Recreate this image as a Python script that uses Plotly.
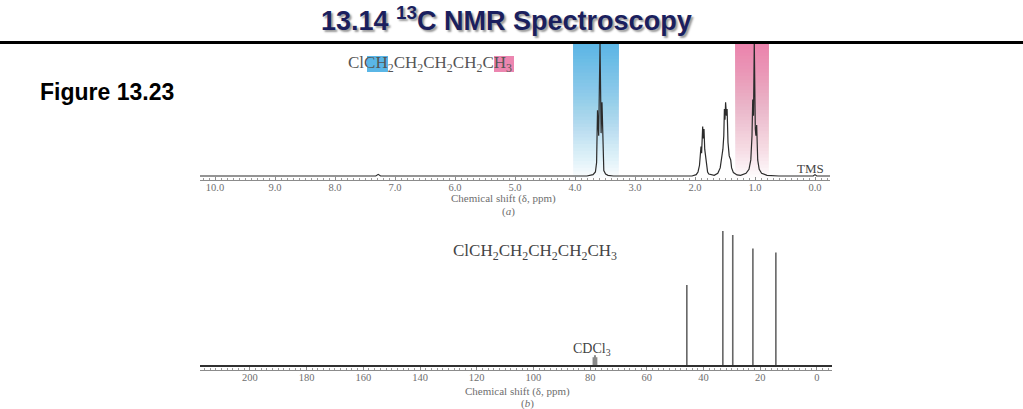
import plotly.graph_objects as go

# (a) 1H spectrum: chemical shift (ppm) and relative intensity
h_ppm = [10.25, 7.32, 7.28, 7.24, 3.80, 3.70, 3.66, 3.64, 3.625, 3.605, 3.583, 3.565, 3.55,
         3.535, 3.52, 3.49, 3.45, 3.36,
         2.05, 1.98, 1.95, 1.925, 1.91, 1.90, 1.89, 1.872, 1.862, 1.85, 1.838, 1.822, 1.81,
         1.79, 1.77, 1.68,
         1.62, 1.58, 1.545, 1.535, 1.52, 1.51, 1.50, 1.49, 1.475, 1.465, 1.45, 1.43, 1.405,
         1.39, 1.36, 1.30, 1.24,
         1.15, 1.10, 1.07, 1.05, 1.038, 1.025, 1.012, 0.995, 0.985, 0.972, 0.955, 0.93, 0.89,
         0.80, 0.60, 0.03, 0.0, -0.03, -0.25]
h_int = [0.0, 0.0, 0.012, 0.0, 0.0, 0.01, 0.03, 0.10, 0.49, 0.30, 1.00, 0.32, 0.55,
         0.12, 0.04, 0.015, 0.005, 0.0,
         0.0, 0.01, 0.03, 0.08, 0.15, 0.22, 0.17, 0.37, 0.28, 0.35, 0.20, 0.14, 0.08,
         0.03, 0.015, 0.005,
         0.02, 0.06, 0.17, 0.20, 0.30, 0.50, 0.42, 0.55, 0.45, 0.50, 0.25, 0.15, 0.12,
         0.06, 0.025, 0.008, 0.005,
         0.02, 0.05, 0.12, 0.30, 0.57, 0.45, 1.00, 0.35, 0.30, 0.38, 0.12, 0.05, 0.02,
         0.005, 0.0, 0.0, 0.01, 0.0, 0.0]
h_ticks = [10.0, 9.0, 8.0, 7.0, 6.0, 5.0, 4.0, 3.0, 2.0, 1.0, 0.0]

# highlighted signals (ppm ranges)
blue_band = [4.03, 3.27]
pink_band = [1.33, 0.77]

# (b) 13C spectrum: peak positions (ppm) and relative heights
c_ppm = [45.9, 33.2, 29.7, 22.6, 14.5]
c_int = [0.60, 1.00, 0.97, 0.87, 0.84]
cdcl3_ppm = [78.8, 78.3, 77.8]
cdcl3_int = [0.065, 0.08, 0.065]
c_ticks = [200, 180, 160, 140, 120, 100, 80, 60, 40, 20, 0]

W, H = 1023, 409
SERIF = "Liberation Serif"
SANS = "Liberation Sans"


def px(x):
    return x / W


def py(y):
    return 1 - y / H


fig = go.Figure()

# proton spectrum
fig.add_trace(go.Scatter(x=h_ppm, y=h_int, mode="lines",
                         line=dict(color="#2b2b2b", width=1.2), xaxis="x", yaxis="y"))

# carbon spectrum as sticks on a baseline
cx, cy = [], []
for p, h in zip(c_ppm, c_int):
    cx += [p, p, p, None]
    cy += [0, h, 0, None]
fig.add_trace(go.Scatter(x=cx, y=cy, mode="lines",
                         line=dict(color="#666666", width=1.6), xaxis="x2", yaxis="y2"))
sx, sy = [], []
for p, h in zip(cdcl3_ppm, cdcl3_int):
    sx += [p, p, None]
    sy += [0, h, None]
fig.add_trace(go.Scatter(x=sx, y=sy, mode="lines",
                         line=dict(color="#8a8a8a", width=2), xaxis="x2", yaxis="y2"))
fig.add_trace(go.Scatter(x=[217.6, -5.3], y=[0, 0], mode="lines",
                         line=dict(color="#303030", width=2), xaxis="x2", yaxis="y2"))

# gradient bands behind the highlighted 1H signals:
# stacked translucent layers, each reaching the top, so there are no seams
n_layers = 40
y_lo, y_hi = -0.015, 1.0
for band, rgb in ((blue_band, (88, 182, 232)), (pink_band, (238, 128, 172))):
    prev = 0.0
    for i in range(n_layers):
        target = 0.96 * ((i + 1) / n_layers) ** 0.9
        a = 1 - (1 - target) / (1 - prev)
        prev = target
        fig.add_shape(type="rect", xref="x", yref="y", layer="below",
                      x0=band[0], x1=band[1],
                      y0=y_lo + (y_hi - y_lo) * i / n_layers, y1=y_hi,
                      line=dict(width=0),
                      fillcolor=f"rgba({rgb[0]},{rgb[1]},{rgb[2]},{a:.4f})")

# rule under the heading
fig.add_shape(type="line", xref="paper", yref="paper", x0=0, x1=1,
              y0=py(42.5), y1=py(42.5), line=dict(color="black", width=3))

# highlight boxes in the top formula
fig.add_shape(type="rect", xref="paper", yref="paper", x0=px(367), x1=px(388),
              y0=py(72), y1=py(56), line=dict(width=0), fillcolor="#5ab6e6", layer="below")
fig.add_shape(type="rect", xref="paper", yref="paper", x0=px(494), x1=px(514),
              y0=py(72), y1=py(56), line=dict(width=0), fillcolor="#ec86b0", layer="below")

axis_common = dict(
    showline=True, linecolor="#8c8c8c", linewidth=1,
    showgrid=False, zeroline=False,
    ticks="inside", ticklen=3, tickcolor="#8c8c8c", ticklabelstandoff=-3,
    tickfont=dict(family=SERIF, size=10.5, color="#6e6e6e"),
)

fig.update_layout(
    width=W, height=H,
    margin=dict(l=0, r=0, t=0, b=0),
    paper_bgcolor="white", plot_bgcolor="rgba(0,0,0,0)",
    showlegend=False,
    xaxis=dict(domain=[px(200), px(830)], range=[10.25, -0.25], anchor="y",
               tickmode="array", tickvals=h_ticks, ticktext=[f"{v:.1f}" for v in h_ticks],
               minor=dict(dtick=0.1, tick0=0, ticks="inside", ticklen=2, tickcolor="#9a9a9a"),
               **axis_common),
    yaxis=dict(domain=[py(180), py(40)], range=[-0.03, 1.015], visible=False),
    xaxis2=dict(domain=[px(200), px(832)], range=[217.6, -5.3], anchor="y2",
                tickmode="array", tickvals=c_ticks, ticktext=[str(v) for v in c_ticks],
                minor=dict(dtick=2, tick0=0, ticks="inside", ticklen=2, tickcolor="#9a9a9a"),
                **axis_common),
    yaxis2=dict(domain=[py(370), py(228)], range=[-0.0296, 1.0222], visible=False),
)

ann = [
    dict(text="13.14 <sup>13</sup>C NMR Spectroscopy", x=px(506), y=py(19),
         font=dict(family=SANS, size=27, color="#1b1f5e", weight="bold",
                   shadow="2px 2px 2px #9a9a9a")),
    dict(text="Figure 13.23", x=px(107), y=py(92),
         font=dict(family=SANS, size=23, color="black", weight="bold")),
    dict(text="ClCH<sub>2</sub>CH<sub>2</sub>CH<sub>2</sub>CH<sub>2</sub>CH<sub>3</sub>",
         x=px(430), y=py(64), font=dict(family=SERIF, size=17, color="#555555")),
    dict(text="TMS", x=px(810), y=py(168), font=dict(family=SERIF, size=13, color="#444444")),
    dict(text="Chemical shift (δ, ppm)", x=px(503), y=py(198),
         font=dict(family=SERIF, size=11, color="#6e6e6e")),
    dict(text="(<i>a</i>)", x=px(508), y=py(211), font=dict(family=SERIF, size=11, color="#6e6e6e")),
    dict(text="ClCH<sub>2</sub>CH<sub>2</sub>CH<sub>2</sub>CH<sub>2</sub>CH<sub>3</sub>",
         x=px(535), y=py(252), font=dict(family=SERIF, size=17, color="#444444")),
    dict(text="CDCl<sub>3</sub>", x=px(592), y=py(349),
         font=dict(family=SERIF, size=14, color="#444444")),
    dict(text="Chemical shift (δ, ppm)", x=px(517), y=py(391),
         font=dict(family=SERIF, size=11, color="#6e6e6e")),
    dict(text="(<i>b</i>)", x=px(527), y=py(403), font=dict(family=SERIF, size=11, color="#6e6e6e")),
]
for a in ann:
    fig.add_annotation(xref="paper", yref="paper", showarrow=False,
                       xanchor="center", yanchor="middle", **a)

# the page body has a default 8px margin; drop it so the figure fills the window
fig.write_html("out.html", config={"displayModeBar": False},
               post_script="document.body.style.margin='0';")
